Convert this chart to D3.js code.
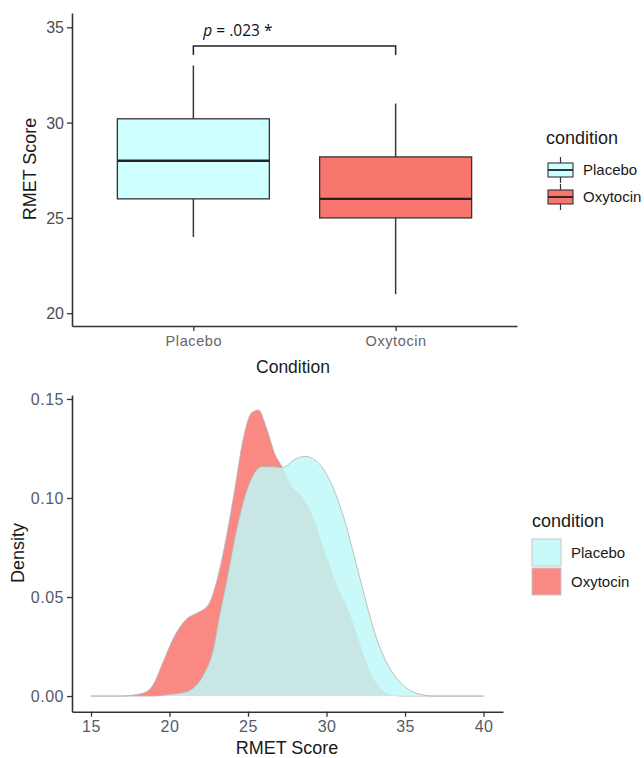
<!DOCTYPE html>
<html>
<head>
<meta charset="utf-8">
<script src="https://cdn.jsdelivr.net/npm/d3@7"></script>
<style>
  body { margin: 0; background: #fff; }
  text { font-family: "Liberation Sans", Arial, sans-serif; }
</style>
</head>
<body>
<svg id="chart" width="644" height="758"></svg>
<script>
// data
var conditions = ["Placebo", "Oxytocin"];
var colors = ["#CFFFFF", "#F8766D"];

// box plot summaries (RMET score)
var whiskerLow = [24, 21];
var q1 = [26, 25];
var medians = [28, 26];
var q3 = [30.2, 28.2];
var whiskerHigh = [33, 31];
var pLabel = ".023 *";

// density curves
var oxyX = [15, 17, 17.7, 18.5, 18.95, 19.6, 20.24, 21.1, 21.73, 22.47, 23.0, 23.64, 24.17, 24.7, 25.23, 25.66, 26.19, 26.72, 27.15, 27.7, 28.5, 29.16, 29.8, 30.65, 31.5, 32.13, 32.77, 33.4, 34.0, 35, 40];
var oxyY = [0, 0, 0.0005, 0.002, 0.0056, 0.0173, 0.029, 0.039, 0.0418, 0.046, 0.0577, 0.081, 0.105, 0.130, 0.143, 0.1444, 0.135, 0.122, 0.116, 0.1066, 0.0998, 0.0897, 0.0746, 0.056, 0.041, 0.0258, 0.0123, 0.0039, 0.0008, 0, 0];
var plaX = [15, 19, 20, 21, 21.5, 22.16, 22.8, 23.2, 23.64, 24.17, 24.7, 25.23, 25.87, 26.6, 27.15, 28.1, 28.63, 29.6, 30.43, 31.18, 31.8, 32.35, 32.98, 33.7, 34.47, 35.3, 36.2, 36.8, 40];
var plaY = [0, 0, 0.0008, 0.002, 0.004, 0.0106, 0.024, 0.041, 0.058, 0.080, 0.098, 0.110, 0.1158, 0.1158, 0.1153, 0.120, 0.121, 0.1167, 0.105, 0.088, 0.0695, 0.0527, 0.0342, 0.019, 0.0089, 0.003, 0.0005, 0, 0];

var boxTicks = [20, 25, 30, 35];
var densTicksY = [0, 0.05, 0.10, 0.15];
var densTicksX = [15, 20, 25, 30, 35, 40];

var svg = d3.select("#chart");

// ---------- top panel: box plot ----------
var xb = d3.scalePoint().domain(conditions).range([72, 517]).padding(0.6);
var yb = d3.scaleLinear().domain([19.33, 35.75]).range([326, 13]);
var boxW = 152;

var topG = svg.append("g");

var axL = topG.append("g")
	.attr("transform", "translate(72,0)")
	.call(d3.axisLeft(yb).tickValues(boxTicks).tickSize(5).tickPadding(3).tickSizeOuter(0));
var axB = topG.append("g")
	.attr("transform", "translate(0,326)")
	.call(d3.axisBottom(xb).tickSize(5).tickPadding(5).tickSizeOuter(0));

[axL, axB].forEach(function(a) {
	a.select(".domain").attr("stroke", "#333").attr("stroke-width", 1.6);
	a.selectAll(".tick line").attr("stroke", "#333").attr("stroke-width", 1.3);
});
axL.selectAll(".tick text").attr("fill", "#4d4d4d").style("font-size", "16px").attr("dy", "0.34em");
axB.selectAll(".tick text").attr("fill", "#666").style("font-size", "14.5px").style("letter-spacing", "0.6px");

// whiskers
topG.append("g").selectAll("line")
	.data(conditions)
	.enter()
	.append("line")
	.attr("x1", function(d) { return xb(d); })
	.attr("x2", function(d) { return xb(d); })
	.attr("y1", function(d, i) { return yb(whiskerLow[i]); })
	.attr("y2", function(d, i) { return yb(whiskerHigh[i]); })
	.attr("stroke", "#3a3a3a")
	.attr("stroke-width", 1.5);

// boxes
topG.append("g").selectAll("rect")
	.data(conditions)
	.enter()
	.append("rect")
	.attr("x", function(d) { return xb(d) - boxW / 2; })
	.attr("width", boxW)
	.attr("y", function(d, i) { return yb(q3[i]); })
	.attr("height", function(d, i) { return yb(q1[i]) - yb(q3[i]); })
	.attr("fill", function(d, i) { return colors[i]; })
	.attr("stroke", "#333")
	.attr("stroke-width", 1.3);

// medians
topG.append("g").selectAll("line")
	.data(conditions)
	.enter()
	.append("line")
	.attr("x1", function(d) { return xb(d) - boxW / 2; })
	.attr("x2", function(d) { return xb(d) + boxW / 2; })
	.attr("y1", function(d, i) { return yb(medians[i]); })
	.attr("y2", function(d, i) { return yb(medians[i]); })
	.attr("stroke", "#222")
	.attr("stroke-width", 2.4);

// significance bracket
var brTop = 34.02, brLow = 33.55;
topG.append("path")
	.attr("d", "M" + xb(conditions[0]) + "," + yb(brLow) + "V" + yb(brTop) + "H" + xb(conditions[1]) + "V" + yb(brLow))
	.attr("fill", "none")
	.attr("stroke", "#222")
	.attr("stroke-width", 1.5);
var pt = topG.append("text")
	.attr("x", xb(conditions[0]) + 10)
	.attr("y", 36)
	.style("font-family", "'Open Sans', sans-serif")
	.style("font-size", "15.5px")
	.attr("fill", "#111");
pt.append("tspan").style("font-style", "italic").text("p");
pt.append("tspan").text(" = " + pLabel);

topG.append("text")
	.attr("transform", "translate(36,169) rotate(-90)")
	.attr("text-anchor", "middle")
	.style("font-size", "18px")
	.attr("fill", "#1a1a1a")
	.text("RMET Score");
topG.append("text")
	.attr("x", 293)
	.attr("y", 373)
	.attr("text-anchor", "middle")
	.style("font-size", "17.5px")
	.attr("fill", "#1a1a1a")
	.text("Condition");

// legend (box glyph)
var lg1 = topG.append("g");
lg1.append("text").attr("x", 546).attr("y", 144).style("font-size", "18px").attr("fill", "#1a1a1a").text("condition");
var keys1 = lg1.selectAll("g.k")
	.data(conditions)
	.enter()
	.append("g")
	.attr("transform", function(d, i) { return "translate(548," + (170 + i * 27) + ")"; });
keys1.append("line").attr("x1", 12.5).attr("x2", 12.5).attr("y1", -13).attr("y2", 13).attr("stroke", "#333").attr("stroke-width", 1.2);
keys1.append("rect").attr("x", 0).attr("y", -7).attr("width", 25).attr("height", 14)
	.attr("fill", function(d, i) { return colors[i]; }).attr("stroke", "#333").attr("stroke-width", 1.1);
keys1.append("line").attr("x1", 0).attr("x2", 25).attr("y1", 0).attr("y2", 0).attr("stroke", "#222").attr("stroke-width", 1.8);
keys1.append("text").attr("x", 35).attr("y", 0).attr("dy", "0.35em").style("font-size", "15px").attr("fill", "#1a1a1a")
	.text(function(d) { return d; });

// ---------- bottom panel: density ----------
var xd = d3.scaleLinear().domain([13.79, 41.24]).range([72, 503]);
var yd = d3.scaleLinear().domain([-0.0079, 0.152]).range([711.7, 395]);

var botG = svg.append("g");

var oxyPts = oxyX.map(function(v, i) { return [v, oxyY[i]]; });
var plaPts = plaX.map(function(v, i) { return [v, plaY[i]]; });

var area = d3.area()
	.x(function(d) { return xd(d[0]); })
	.y0(yd(0))
	.y1(function(d) { return yd(d[1]); })
	.curve(d3.curveMonotoneX);
var line = d3.line()
	.x(function(d) { return xd(d[0]); })
	.y(function(d) { return yd(d[1]); })
	.curve(d3.curveMonotoneX);

var densFill = ["#BEF9F8", "#F8766D"];
var densOp = [0.83, 0.86];

botG.append("path").datum(oxyPts).attr("d", area).attr("fill", densFill[1]).attr("fill-opacity", densOp[1]);
botG.append("path").datum(oxyPts).attr("d", line).attr("fill", "none").attr("stroke", "#b8b8b8").attr("stroke-width", 0.9);
botG.append("path").datum(plaPts).attr("d", area).attr("fill", densFill[0]).attr("fill-opacity", densOp[0]);
botG.append("path").datum(plaPts).attr("d", line).attr("fill", "none").attr("stroke", "#b8b8b8").attr("stroke-width", 0.9);

var axL2 = botG.append("g")
	.attr("transform", "translate(72,0)")
	.call(d3.axisLeft(yd).tickValues(densTicksY).tickFormat(d3.format(".2f")).tickSize(5).tickPadding(3).tickSizeOuter(0));
var axB2 = botG.append("g")
	.attr("transform", "translate(0,711.7)")
	.call(d3.axisBottom(xd).tickValues(densTicksX).tickSize(5).tickPadding(4).tickSizeOuter(0));
[axL2, axB2].forEach(function(a) {
	a.select(".domain").attr("stroke", "#333").attr("stroke-width", 1.6);
	a.selectAll(".tick line").attr("stroke", "#333").attr("stroke-width", 1.3);
	a.selectAll(".tick text").attr("fill", "#555b68").style("font-size", "16px").style("letter-spacing", "0.5px");
});
axL2.selectAll(".tick text").attr("dy", "0.34em");

botG.append("text")
	.attr("transform", "translate(24,553) rotate(-90)")
	.attr("text-anchor", "middle")
	.style("font-size", "18px")
	.attr("fill", "#1a1a1a")
	.text("Density");
botG.append("text")
	.attr("x", 287)
	.attr("y", 754)
	.attr("text-anchor", "middle")
	.style("font-size", "18px")
	.attr("fill", "#1a1a1a")
	.text("RMET Score");

// legend (squares)
var lg2 = botG.append("g");
lg2.append("text").attr("x", 532).attr("y", 527).style("font-size", "18px").attr("fill", "#1a1a1a").text("condition");
var keys2 = lg2.selectAll("g.k")
	.data(conditions)
	.enter()
	.append("g")
	.attr("transform", function(d, i) { return "translate(532," + (539 + i * 29) + ")"; });
keys2.append("rect").attr("width", 29).attr("height", 27)
	.attr("fill", function(d, i) { return densFill[i]; })
	.attr("fill-opacity", function(d, i) { return densOp[i]; })
	.attr("stroke", "#c8c8c8").attr("stroke-width", 1);
keys2.append("text").attr("x", 39).attr("y", 14).attr("dy", "0.35em").style("font-size", "15px").attr("fill", "#1a1a1a")
	.text(function(d) { return d; });
</script>
</body>
</html>
